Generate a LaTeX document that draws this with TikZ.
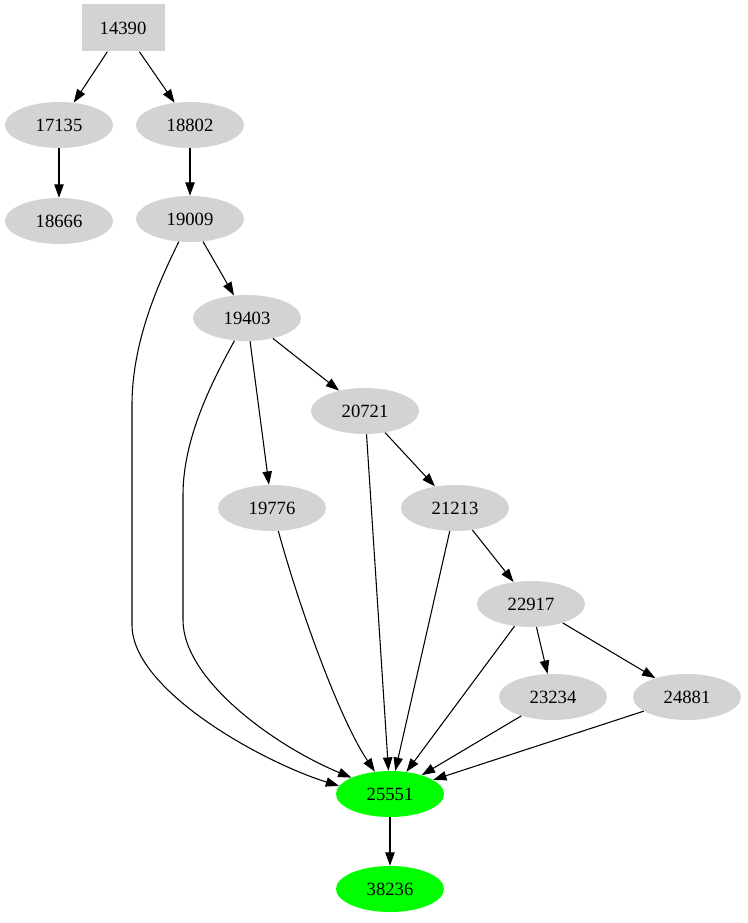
\documentclass[tikz,border=0pt]{standalone}
\usepackage{fontspec}
\setmainfont{Liberation Serif}
\usetikzlibrary{arrows.meta,shapes.geometric}
\definecolor{lgray}{HTML}{D3D3D3}
\definecolor{vgreen}{HTML}{00FF00}
\begin{document}
\begin{tikzpicture}[x=0.75pt,y=-0.75pt,
  ell/.style={ellipse,fill=lgray,minimum width=108*0.75pt,minimum height=46*0.75pt,inner sep=0pt,font=\fontsize{14}{16}\selectfont},
  grn/.style={ell,fill=vgreen},
  boxn/.style={rectangle,fill=lgray,minimum width=83*0.75pt,minimum height=47*0.75pt,inner sep=0pt,font=\fontsize{14}{16}\selectfont},
  edge/.style={draw,line width=0.8pt,-{Triangle[length=10pt,width=7pt]}}]
\useasboundingbox (0,0) rectangle (747,923);
\node[boxn] (a14390) at (123,28) {14390};
\node[ell] (a17135) at (59,125) {17135};
\node[ell] (a18802) at (190,125) {18802};
\node[ell] (a18666) at (59,221) {18666};
\node[ell] (a19009) at (190,219) {19009};
\node[ell] (a19403) at (247,318) {19403};
\node[ell] (a20721) at (365,411) {20721};
\node[ell] (a19776) at (272,508) {19776};
\node[ell] (a21213) at (455,508) {21213};
\node[ell] (a22917) at (531,604) {22917};
\node[ell] (a23234) at (553,697) {23234};
\node[ell] (a24881) at (687,697) {24881};
\node[grn] (a25551) at (390,794) {25551};
\node[grn] (a38236) at (390,889) {38236};

\draw[edge] (a14390) -- (a17135);
\draw[edge] (a14390) -- (a18802);
\draw[edge] (a17135) -- (a18666);
\draw[edge] (a18802) -- (a19009);
\draw[edge] (a19009) -- (a19403);
\draw[edge] (a19009) .. controls (160,280) and (132,340) .. (132,405) -- (132,625) .. controls (132,690) and (262,762) .. (a25551.171);
\draw[edge] (a19403) .. controls (210,385) and (183,440) .. (183,495) -- (183,620) .. controls (183,680) and (275,746) .. (a25551.157);
\draw[edge] (a19403) -- (a19776);
\draw[edge] (a19403) -- (a20721);
\draw[edge] (a20721) -- (a25551);
\draw[edge] (a20721) -- (a21213);
\draw[edge] (a19776) .. controls (300,610) and (340,720) .. (a25551);
\draw[edge] (a21213) -- (a25551);
\draw[edge] (a21213) -- (a22917);
\draw[edge] (a22917) -- (a25551);
\draw[edge] (a22917) -- (a23234);
\draw[edge] (a22917) -- (a24881);
\draw[edge] (a23234) -- (a25551);
\draw[edge] (a24881) -- (a25551);
\draw[edge] (a25551) -- (a38236);
\end{tikzpicture}
\end{document}
